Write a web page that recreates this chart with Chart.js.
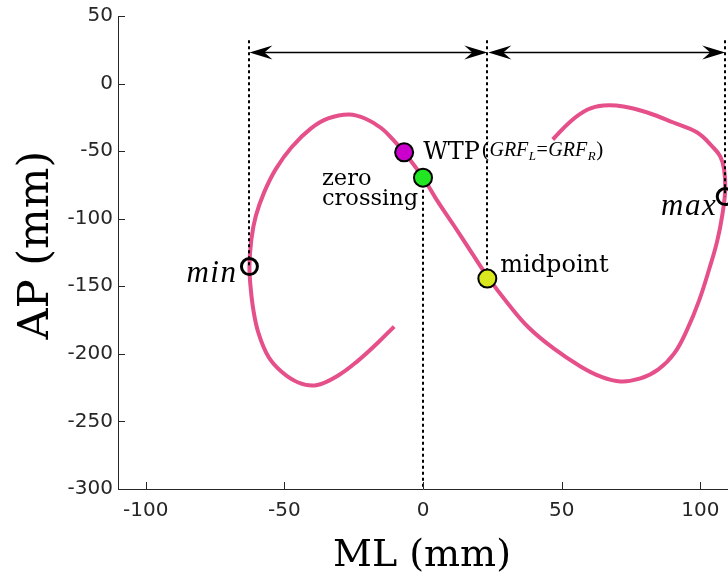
<!DOCTYPE html>
<html><head><meta charset="utf-8">
<script src="https://cdn.jsdelivr.net/npm/chart.js@4.4.1/dist/chart.umd.min.js"></script>
<style>html,body{margin:0;padding:0;background:#fff;}canvas{display:block;}</style>
</head><body>
<canvas id="c" width="728" height="574"></canvas>
<script>
// ---- data ----
const curveML = [-10.4,-16.2,-23.4,-30.6,-38.5,-45.0,-51.1,-55.8,-59.4,-61.2,-62.2,-62.6,-61.9,-60.3,-57.3,-53.1,-47.4,-40.4,-34.2,-26.6,-20.5,-15.1,-10.8,-6.8,0.0,5.0,11.2,17.3,23.7,30.6,38.1,47.1,56.8,64.0,71.2,78.4,84.9,90.6,95.3,99.6,103.2,106.1,108.0,109.0,108.6,107.2,104.3,98.9,90.3,80.9,72.3,65.1,59.4,53.2,46.8];
const curveAP = [-179.8,-191.6,-205.0,-216.0,-223.2,-221.2,-213.1,-202.0,-184.2,-167.2,-150.1,-135.4,-115.4,-98.0,-80.5,-63.3,-47.1,-33.2,-25.8,-22.9,-26.2,-32.9,-41.4,-50.9,-69.6,-86.2,-105.2,-124.4,-144.2,-162.7,-180.5,-196.0,-209.3,-216.7,-220.4,-218.2,-211.5,-199.7,-181.9,-160.4,-137.4,-116.6,-96.6,-78.4,-63.6,-53.9,-46.5,-36.2,-28.8,-21.4,-16.9,-16.2,-19.2,-28.0,-41.4];
const eventNames = ['min','max','WTP','zero crossing','midpoint'];
const eventML = [-62.6, 109.0, -6.8, 0.0, 23.2];
const eventAP = [-135.4, -83.6, -50.9, -69.6, -144.3];
const xTicks = [-100,-50,0,50,100];
const yTicks = [50,0,-50,-100,-150,-200,-250,-300];
const xRange = [-110, 110];
const yRange = [-300, 50];
const arrowAP = 23;      // AP level of the double arrows
const guideTopAP = 32;   // AP where the dotted guides start
const xTitle = 'ML (mm)';
const yTitle = 'AP (mm)';

const AXIS_COLOR = '#262626';
const CURVE_COLOR = '#e54f8a';

function arrowHead(ctx, tipX, tipY, dir) {
  const L = 23, H = 7, B = 15;
  ctx.beginPath();
  ctx.moveTo(tipX, tipY);
  ctx.lineTo(tipX - dir*L, tipY - H);
  ctx.lineTo(tipX - dir*B, tipY);
  ctx.lineTo(tipX - dir*L, tipY + H);
  ctx.closePath();
  ctx.fill();
}

const overlay = {
  id: 'overlay',
  afterDatasetDraw(chart, args) {
    if (args.index !== 0) return;
    const {ctx, scales: {x, y}} = chart;
    ctx.save();
    ctx.strokeStyle = '#000';
    ctx.lineWidth = 2;
    ctx.setLineDash([3, 3]);
    ctx.beginPath();
    [0, 4, 1].forEach(i => {
      const px = Math.round(x.getPixelForValue(eventML[i]));
      ctx.moveTo(px, y.getPixelForValue(guideTopAP));
      ctx.lineTo(px, y.getPixelForValue(eventAP[i]));
    });
    const pz = Math.round(x.getPixelForValue(eventML[3]));
    ctx.moveTo(pz, y.getPixelForValue(eventAP[3]));
    ctx.lineTo(pz, y.getPixelForValue(yRange[0]));
    ctx.stroke();
    ctx.restore();
  },
  afterDraw(chart) {
    const {ctx, chartArea: ca, scales: {x, y}} = chart;
    ctx.save();
    // inward tick marks
    ctx.strokeStyle = AXIS_COLOR; ctx.lineWidth = 1;
    ctx.beginPath();
    xTicks.forEach(v => {
      const px = Math.round(x.getPixelForValue(v)) + 0.5;
      ctx.moveTo(px, ca.bottom); ctx.lineTo(px, ca.bottom - 7);
    });
    yTicks.forEach(v => {
      const py = Math.round(y.getPixelForValue(v)) + 0.5;
      ctx.moveTo(ca.left, py); ctx.lineTo(ca.left + 7, py);
    });
    ctx.stroke();

    // double arrows
    const ay = Math.round(y.getPixelForValue(arrowAP)) + 0.5;
    const pMin = x.getPixelForValue(eventML[0]);
    const pMid = x.getPixelForValue(eventML[4]);
    const pMax = x.getPixelForValue(eventML[1]);
    ctx.strokeStyle = '#000'; ctx.fillStyle = '#000'; ctx.lineWidth = 1.5;
    ctx.beginPath();
    ctx.moveTo(pMin + 10, ay); ctx.lineTo(pMid - 10, ay);
    ctx.moveTo(pMid + 10, ay); ctx.lineTo(pMax - 10, ay);
    ctx.stroke();
    arrowHead(ctx, pMin, ay, -1);
    arrowHead(ctx, pMid, ay, 1);
    arrowHead(ctx, pMid + 1, ay, -1);
    arrowHead(ctx, pMax, ay, 1);

    // event labels
    const ex = i => x.getPixelForValue(eventML[i]);
    const ey = i => y.getPixelForValue(eventAP[i]);
    ctx.fillStyle = '#000';
    ctx.textBaseline = 'alphabetic';
    ctx.font = 'italic 31px "Liberation Serif"';
    ctx.letterSpacing = '1.5px';
    ctx.textAlign = 'right';
    ctx.fillText(eventNames[0], ex(0) - 12, ey(0) + 15);
    ctx.fillText(eventNames[1], ex(1) - 8, ey(1) + 18);
    ctx.letterSpacing = '0px';
    // WTP
    ctx.textAlign = 'left';
    ctx.font = '24px "DejaVu Serif"';
    const wx = ex(2) + 19, wy = ey(2) + 7;
    ctx.fillText(eventNames[2], wx, wy);
    let cx = wx + ctx.measureText(eventNames[2]).width + 2;
    const parts = [
      ['(', '21px "Liberation Serif"', 0],
      ['GRF', 'italic 20px "Liberation Serif"', 0],
      ['L', 'italic 13px "Liberation Serif"', 4],
      ['=', '20px "Liberation Serif"', 0],
      ['GRF', 'italic 20px "Liberation Serif"', 0],
      ['R', 'italic 13px "Liberation Serif"', 4],
      [')', '21px "Liberation Serif"', 0]
    ];
    parts.forEach(([t, f, dy]) => {
      ctx.font = f;
      ctx.fillText(t, cx, wy - 3 + dy);
      cx += ctx.measureText(t).width + 0.5;
    });
    // zero crossing
    ctx.font = '22.5px "DejaVu Serif"';
    const [w1, w2] = eventNames[3].split(' ');
    const zx = ex(3) - 101;
    ctx.fillText(w1, zx, ey(3) + 7);
    ctx.fillText(w2, zx, ey(3) + 27);
    // midpoint
    ctx.font = '24px "DejaVu Serif"';
    ctx.fillText(eventNames[4], ex(4) + 13, ey(4) - 7);

    // axis titles
    ctx.textAlign = 'center';
    ctx.font = '38px "DejaVu Serif"';
    ctx.fillText(xTitle, (ca.left + ca.right) / 2 - 1, 566);
    ctx.font = '43px "DejaVu Serif"';
    ctx.translate(48, 245);
    ctx.rotate(-Math.PI / 2);
    ctx.fillText(yTitle, 0, 0);
    ctx.restore();
  }
};

Chart.defaults.font.family = '"DejaVu Sans"';

new Chart(document.getElementById('c'), {
  type: 'scatter',
  data: {
    datasets: [
      {
        label: 'COP',
        data: curveML.map((v, i) => ({x: v, y: curveAP[i]})),
        showLine: true,
        borderColor: CURVE_COLOR,
        borderWidth: 4,
        borderCapStyle: 'butt',
        pointRadius: 0,
        tension: 0.4,
        fill: false,
        order: 2
      },
      {
        label: 'events',
        data: eventML.map((v, i) => ({x: v, y: eventAP[i]})),
        showLine: false,
        pointRadius: [8, 8, 9, 9, 9],
        pointBackgroundColor: ['rgba(0,0,0,0)', 'rgba(0,0,0,0)', '#cc00cc', '#22e622', '#d9e81e'],
        pointBorderColor: '#000',
        pointBorderWidth: [3, 3, 2, 2, 2],
        order: 1
      }
    ]
  },
  options: {
    responsive: false,
    animation: false,
    devicePixelRatio: 1,
    events: [],
    layout: {autoPadding: false, padding: {top: 16, right: 0, left: 0, bottom: 0}},
    plugins: {legend: {display: false}, tooltip: {enabled: false}},
    scales: {
      x: {
        type: 'linear',
        min: xRange[0], max: xRange[1],
        afterBuildTicks: s => { s.ticks = xTicks.map(v => ({value: v})); },
        afterFit: s => { s.height = 85; s.paddingLeft = 0; s.paddingRight = 0; },
        grid: {display: false, drawTicks: false},
        border: {display: true, color: AXIS_COLOR, width: 1},
        ticks: {color: AXIS_COLOR, font: {size: 20}, padding: 10, maxRotation: 0, autoSkip: false}
      },
      y: {
        type: 'linear',
        min: yRange[0], max: yRange[1],
        afterBuildTicks: s => { s.ticks = yTicks.map(v => ({value: v})); },
        afterFit: s => { s.width = 118; s.paddingTop = 0; s.paddingBottom = 0; },
        grid: {display: false, drawTicks: false},
        border: {display: true, color: AXIS_COLOR, width: 1},
        ticks: {color: AXIS_COLOR, font: {size: 20}, padding: 5, autoSkip: false}
      }
    }
  },
  plugins: [overlay]
});
</script>
</body></html>
